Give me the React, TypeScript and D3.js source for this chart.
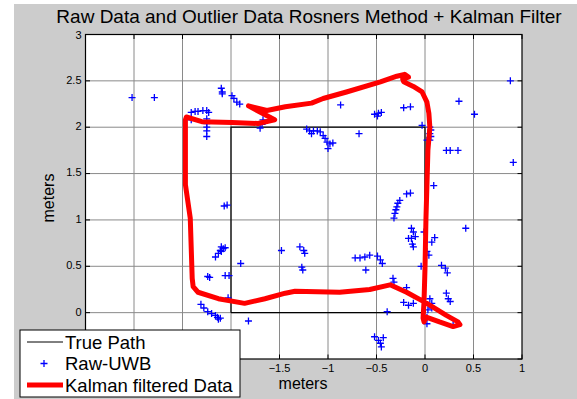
import * as d3 from "d3";

// axis ticks
const xTicks = [-3.5, -3, -2.5, -2, -1.5, -1, -0.5, 0, 0.5, 1];
const yTicks = [-0.5, 0, 0.5, 1, 1.5, 2, 2.5, 3];

// reference square the robot was supposed to follow
const truePath: [number, number][] = [
  [-2, 0], [0, 0], [0, 2], [-2, 2], [-2, 0],
];

// raw UWB fixes (meters)
const rawUwb: [number, number][] = [
  [-3.02, 2.32], [-2.79, 2.32],
  [-2.1, 2.42], [-2.09, 2.38], [-2.09, 2.36], [-1.99, 2.34], [-1.97, 2.31], [-1.94, 2.27], [-1.91, 2.25],
  [-2.41, 2.16], [-2.37, 2.17], [-2.34, 2.17], [-2.29, 2.18], [-2.25, 2.18], [-2.23, 2.16], [-2.41, 2.08],
  [-2.25, 2.09], [-2.25, 2.04], [-2.25, 2.0], [-2.25, 1.96], [-2.25, 1.9],
  [-1.67, 2.08], [-1.7, 1.99], [-1.68, 2.03],
  [0.88, 2.5], [0.35, 2.28], [0.51, 2.14], [-0.87, 2.24],
  [-0.52, 2.14], [-0.48, 2.15], [-0.45, 2.16], [-0.49, 2.12], [-0.22, 2.21], [-0.15, 2.22],
  [-0.03, 2.02], [0.05, 2.0], [0.06, 1.97], [0.05, 1.93], [0.06, 1.9], [0.05, 1.86], [0.02, 1.86],
  [-1.22, 1.98], [-1.19, 1.96], [-1.15, 1.96], [-1.11, 1.96], [-1.08, 1.95], [-1.05, 1.91], [-1.03, 1.88],
  [-1.01, 1.84], [-0.98, 1.82], [-0.95, 1.83], [-1.0, 1.77], [-1.17, 1.93], [-0.68, 1.93],
  [0.22, 1.75], [0.26, 1.75], [0.34, 1.75], [0.91, 1.62], [0.09, 1.37],
  [-2.07, 1.15], [-2.04, 1.16],
  [-2.1, 0.71], [-2.08, 0.69], [-2.11, 0.67], [-2.13, 0.64], [-2.16, 0.6], [-2.06, 0.7], [-2.1, 0.66],
  [-1.48, 0.67], [-1.9, 0.53], [-2.24, 0.39], [-2.22, 0.38], [-2.06, 0.4], [-2.02, 0.4], [-2.03, 0.16],
  [-2.31, 0.09], [-2.28, 0.05], [-2.24, 0.01], [-2.2, -0.01], [-2.16, -0.03], [-2.14, -0.05], [-2.11, -0.06],
  [-2.13, -0.07], [-1.82, -0.09],
  [-0.15, 1.29], [-0.19, 1.28], [-0.26, 1.21], [-0.28, 1.18], [-0.29, 1.14], [-0.3, 1.11], [-0.31, 1.07], [-0.32, 1.02],
  [0.42, 0.91], [-0.14, 0.91], [-0.12, 0.87], [-0.17, 0.8], [-0.14, 0.8], [-0.1, 0.82], [-0.13, 0.74], [-0.12, 0.71],
  [-0.01, 0.87], [0.1, 0.81], [0.07, 0.76], [0.02, 0.66], [0.04, 0.62], [-0.04, 0.5],
  [0.17, 0.51], [0.21, 0.48], [0.23, 0.43],
  [-0.72, 0.59], [-0.67, 0.59], [-0.62, 0.6], [-0.57, 0.62], [-0.49, 0.61], [-0.46, 0.57], [-0.44, 0.53], [-0.61, 0.46],
  [-1.29, 0.71], [-1.25, 0.67], [-1.24, 0.64], [-1.27, 0.49], [-1.26, 0.46],
  [-0.33, 0.37], [-0.32, 0.33], [-0.19, 0.27], [-0.22, 0.11], [-0.17, 0.08], [-0.12, 0.1], [-0.39, 0.01],
  [0.05, 0.15], [0.07, 0.1], [0.03, 0.03], [0.02, -0.05], [0.02, -0.12], [0.07, 0.05],
  [0.22, 0.21], [0.24, 0.15], [0.26, 0.12], [0.29, -0.13],
  [-0.52, -0.26], [-0.48, -0.3], [-0.46, -0.33], [-0.45, -0.37], [-0.43, -0.27],
];

// Kalman filter output
const kalman: [number, number][] = [
  [-0.01, -0.1], [-0.02, -0.06], [-0.01, 0.12], [0.0, 0.48], [0.01, 1.02], [0.02, 1.38], [0.03, 1.75],
  [0.05, 2.0], [0.04, 2.15], [0.02, 2.27], [-0.03, 2.38], [-0.12, 2.44], [-0.22, 2.49], [-0.23, 2.52],
  [-0.17, 2.54], [-0.21, 2.57], [-0.29, 2.55], [-0.46, 2.49], [-0.81, 2.38], [-1.05, 2.31], [-1.17, 2.26],
  [-1.44, 2.22], [-1.63, 2.18], [-1.82, 2.23], [-1.55, 2.08], [-1.72, 2.04], [-1.99, 2.05], [-2.3, 2.06],
  [-2.46, 2.11], [-2.47, 2.08], [-2.47, 1.38], [-2.42, 1.02], [-2.4, 0.37], [-2.39, 0.28], [-2.34, 0.22],
  [-2.13, 0.15], [-1.86, 0.1], [-1.65, 0.15], [-1.44, 0.21], [-1.34, 0.23], [-0.88, 0.22], [-0.57, 0.25],
  [-0.36, 0.3], [-0.19, 0.22], [0.02, 0.1], [0.22, -0.03], [0.34, -0.1], [0.36, -0.13], [0.29, -0.15],
  [0.15, -0.1], [0.02, -0.05], [-0.01, -0.09],
];

const legendItems = ["True Path", "Raw-UWB", "Kalman filtered Data"];

const FONT = "'Liberation Sans', Arial, sans-serif";

function Plus({ cx, cy, r = 3.5, color = "#0000ff" }) {
  return (
    <path
      d={`M${cx - r},${cy}H${cx + r}M${cx},${cy - r}V${cy + r}`}
      stroke={color}
      strokeWidth={1.3}
      fill="none"
    />
  );
}

export default function App() {
  const width = 577;
  const height = 399;
  const plot = { left: 85.5, right: 522, top: 34.5, bottom: 359 };
  const legend = { x: 20, y: 330, w: 220, h: 67 };

  const x = d3.scaleLinear().domain([-3.5, 1]).range([plot.left, plot.right]);
  const y = d3.scaleLinear().domain([-0.5, 3]).range([plot.bottom, plot.top]);

  const line = d3
    .line<[number, number]>()
    .x((d) => x(d[0]))
    .y((d) => y(d[1]));

  const tickLen = 4.5;

  // labels that sit under the legend box are not drawn (hidden in the original too)
  const xLabels = xTicks.filter((t) => x(t) - 10 > legend.x + legend.w);
  const yLabels = yTicks.filter((t) => y(t) + 6 < legend.y);

  return (
    <svg
      width={width}
      height={height}
      style={{ position: "absolute", left: 0, top: 0 }}
      fontFamily={FONT}
    >
      <rect x={0} y={0} width={width} height={height} fill="#ffffff" />
      <rect x={14} y={4} width={width - 14} height={height - 4} fill="#cccccc" />

      <text x={309} y={23} fontSize={19} textAnchor="middle" fill="#000">
        Raw Data and Outlier Data Rosners Method + Kalman Filter
      </text>

      {/* axes background */}
      <rect
        x={plot.left}
        y={plot.top}
        width={plot.right - plot.left}
        height={plot.bottom - plot.top}
        fill="#ffffff"
      />

      {/* grid */}
      {xTicks.slice(1, -1).map((t) => (
        <line key={"gx" + t} x1={x(t)} x2={x(t)} y1={plot.top} y2={plot.bottom} stroke="#8a8a8a" strokeWidth={1} />
      ))}
      {yTicks.slice(1, -1).map((t) => (
        <line key={"gy" + t} x1={plot.left} x2={plot.right} y1={y(t)} y2={y(t)} stroke="#8a8a8a" strokeWidth={1} />
      ))}

      {/* ticks, pointing inwards on all four sides */}
      {xTicks.map((t) => (
        <g key={"tx" + t} stroke="#000" strokeWidth={1}>
          <line x1={x(t)} x2={x(t)} y1={plot.bottom} y2={plot.bottom - tickLen} />
          <line x1={x(t)} x2={x(t)} y1={plot.top} y2={plot.top + tickLen} />
        </g>
      ))}
      {yTicks.map((t) => (
        <g key={"ty" + t} stroke="#000" strokeWidth={1}>
          <line x1={plot.left} x2={plot.left + tickLen} y1={y(t)} y2={y(t)} />
          <line x1={plot.right} x2={plot.right - tickLen} y1={y(t)} y2={y(t)} />
        </g>
      ))}

      {/* true path */}
      <path d={line(truePath) ?? ""} fill="none" stroke="#000" strokeWidth={1.2} />

      {/* raw UWB */}
      {rawUwb.map((d, i) => (
        <Plus key={i} cx={x(d[0])} cy={y(d[1])} />
      ))}

      {/* Kalman */}
      <path
        d={line(kalman) ?? ""}
        fill="none"
        stroke="#ff0000"
        strokeWidth={5}
        strokeLinejoin="round"
        strokeLinecap="round"
      />

      {/* frame */}
      <rect
        x={plot.left}
        y={plot.top}
        width={plot.right - plot.left}
        height={plot.bottom - plot.top}
        fill="none"
        stroke="#000"
        strokeWidth={1.2}
      />

      {/* tick labels */}
      {xLabels.map((t) => (
        <text key={"lx" + t} x={x(t)} y={plot.bottom + 13} fontSize={11} textAnchor="middle" fill="#000">
          {d3.format("")(t)}
        </text>
      ))}
      {yLabels.map((t) => (
        <text
          key={"ly" + t}
          x={plot.left - 4}
          y={y(t) + (t === 3 ? 2 : 0)}
          fontSize={11}
          textAnchor="end"
          dominantBaseline="middle"
          fill="#000"
        >
          {d3.format("")(t)}
        </text>
      ))}

      <text x={303} y={389} fontSize={16} textAnchor="middle" fill="#000">
        meters
      </text>
      <text
        transform={`translate(54,198) rotate(-90)`}
        fontSize={16}
        textAnchor="middle"
        fill="#000"
      >
        meters
      </text>

      {/* legend */}
      <g>
        <rect x={legend.x} y={legend.y} width={legend.w} height={legend.h} fill="#ffffff" stroke="#000" strokeWidth={1} />
        {legendItems.map((name, i) => {
          const cy = 342 + i * 21.5;
          return (
            <g key={name}>
              {i === 0 && <line x1={27} x2={63} y1={cy} y2={cy} stroke="#000" strokeWidth={1} />}
              {i === 1 && <Plus cx={44} cy={cy} />}
              {i === 2 && <line x1={27} x2={63} y1={cy} y2={cy} stroke="#ff0000" strokeWidth={5} />}
              <text x={65} y={cy + 6.5} fontSize={18.5} fill="#000">
                {name}
              </text>
            </g>
          );
        })}
      </g>
    </svg>
  );
}
